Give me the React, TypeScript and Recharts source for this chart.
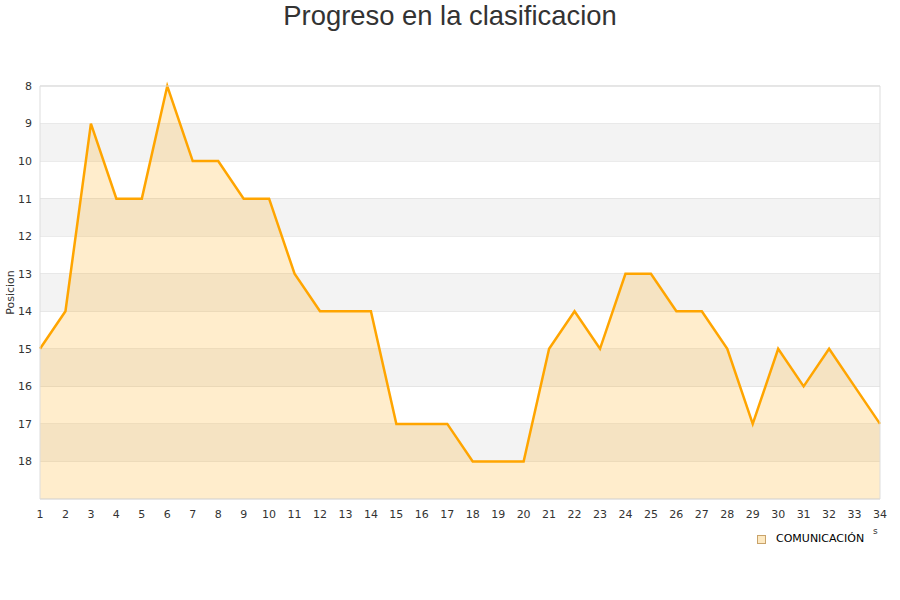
import React from 'react';
import {
  AreaChart, Area, XAxis, YAxis, CartesianGrid, ReferenceArea, ReferenceLine
} from 'recharts';

const jornadas = [1, 2, 3, 4, 5, 6, 7, 8, 9, 10, 11, 12, 13, 14, 15, 16, 17, 18, 19, 20, 21, 22, 23, 24, 25, 26, 27, 28, 29, 30, 31, 32, 33, 34];
const posiciones = [15, 14, 9, 11, 11, 8, 10, 10, 11, 11, 13, 14, 14, 14, 17, 17, 17, 18, 18, 18, 15, 14, 15, 13, 13, 14, 14, 15, 17, 15, 16, 15, 16, 17];
const yTicks = [8, 9, 10, 11, 12, 13, 14, 15, 16, 17, 18];
const bandas = [[9, 10], [11, 12], [13, 14], [15, 16], [17, 18]];

const ORANGE = '#ffa500';
const FONT = '"DejaVu Sans", sans-serif';

const data = jornadas.map((j, i) => ({ jornada: j, posicion: posiciones[i] }));

export default function App() {
  return (
    <div style={{ position: 'absolute', left: 0, top: 0, width: 900, height: 600, background: '#fff' }}>
      <div style={{ position: 'absolute', top: 0, left: 0, width: 900, textAlign: 'center', fontFamily: '"Liberation Sans", Arial, sans-serif', fontSize: 27.4, color: '#333', lineHeight: '32px' }}>
        Progreso en la clasificacion
      </div>
      <div style={{ position: 'absolute', left: 873, top: 526, fontFamily: FONT, fontSize: 9, color: '#333' }}>s</div>
      <div style={{ position: 'absolute', left: 757, top: 532, display: 'flex', alignItems: 'center', fontFamily: FONT, fontSize: 11, color: '#000', lineHeight: '14px' }}>
        <span style={{ display: 'inline-block', width: 7, height: 7, border: '1px solid #c9a36a', background: '#fde9c2', marginRight: 10 }} />
        <span>COMUNICACIÓN</span>
      </div>
      <AreaChart width={900} height={600} data={data} margin={{ top: 86, right: 20, left: 0, bottom: 71 }}>
        {bandas.map(([a, b]) => (
          <ReferenceArea key={a} y1={a} y2={b} fill="#f3f3f3" fillOpacity={1} stroke="none" ifOverflow="visible" />
        ))}
        <CartesianGrid vertical={false} stroke="#dddddd" />
        <XAxis
          dataKey="jornada"
          type="number"
          domain={[1, 34]}
          ticks={jornadas}
          interval={0}
          tickLine={false}
          axisLine={{ stroke: '#dddddd' }}
          tick={{ fill: '#333', fontSize: 11, fontFamily: FONT, dy: 3 }}
          height={30}
        />
        <YAxis
          type="number"
          domain={[8, 19]}
          reversed
          ticks={yTicks}
          interval={0}
          tickLine={false}
          axisLine={{ stroke: '#dddddd' }}
          tick={{ fill: '#333', fontSize: 11, fontFamily: FONT }}
          width={40}
          label={{ value: 'Posicion', angle: -90, position: 'insideLeft', offset: 10, style: { textAnchor: 'middle', fill: '#333', fontSize: 11, fontFamily: FONT } }}
        />
        <ReferenceLine x={34} stroke="#dddddd" />
        <ReferenceLine y={8} stroke="#dddddd" />
        <Area
          type="linear"
          dataKey="posicion"
          name="COMUNICACIÓN"
          stroke={ORANGE}
          strokeWidth={2.5}
          fill={ORANGE}
          fillOpacity={0.2}
          baseValue={19}
          dot={false}
          activeDot={false}
          isAnimationActive={false}
        />
      </AreaChart>
    </div>
  );
}
